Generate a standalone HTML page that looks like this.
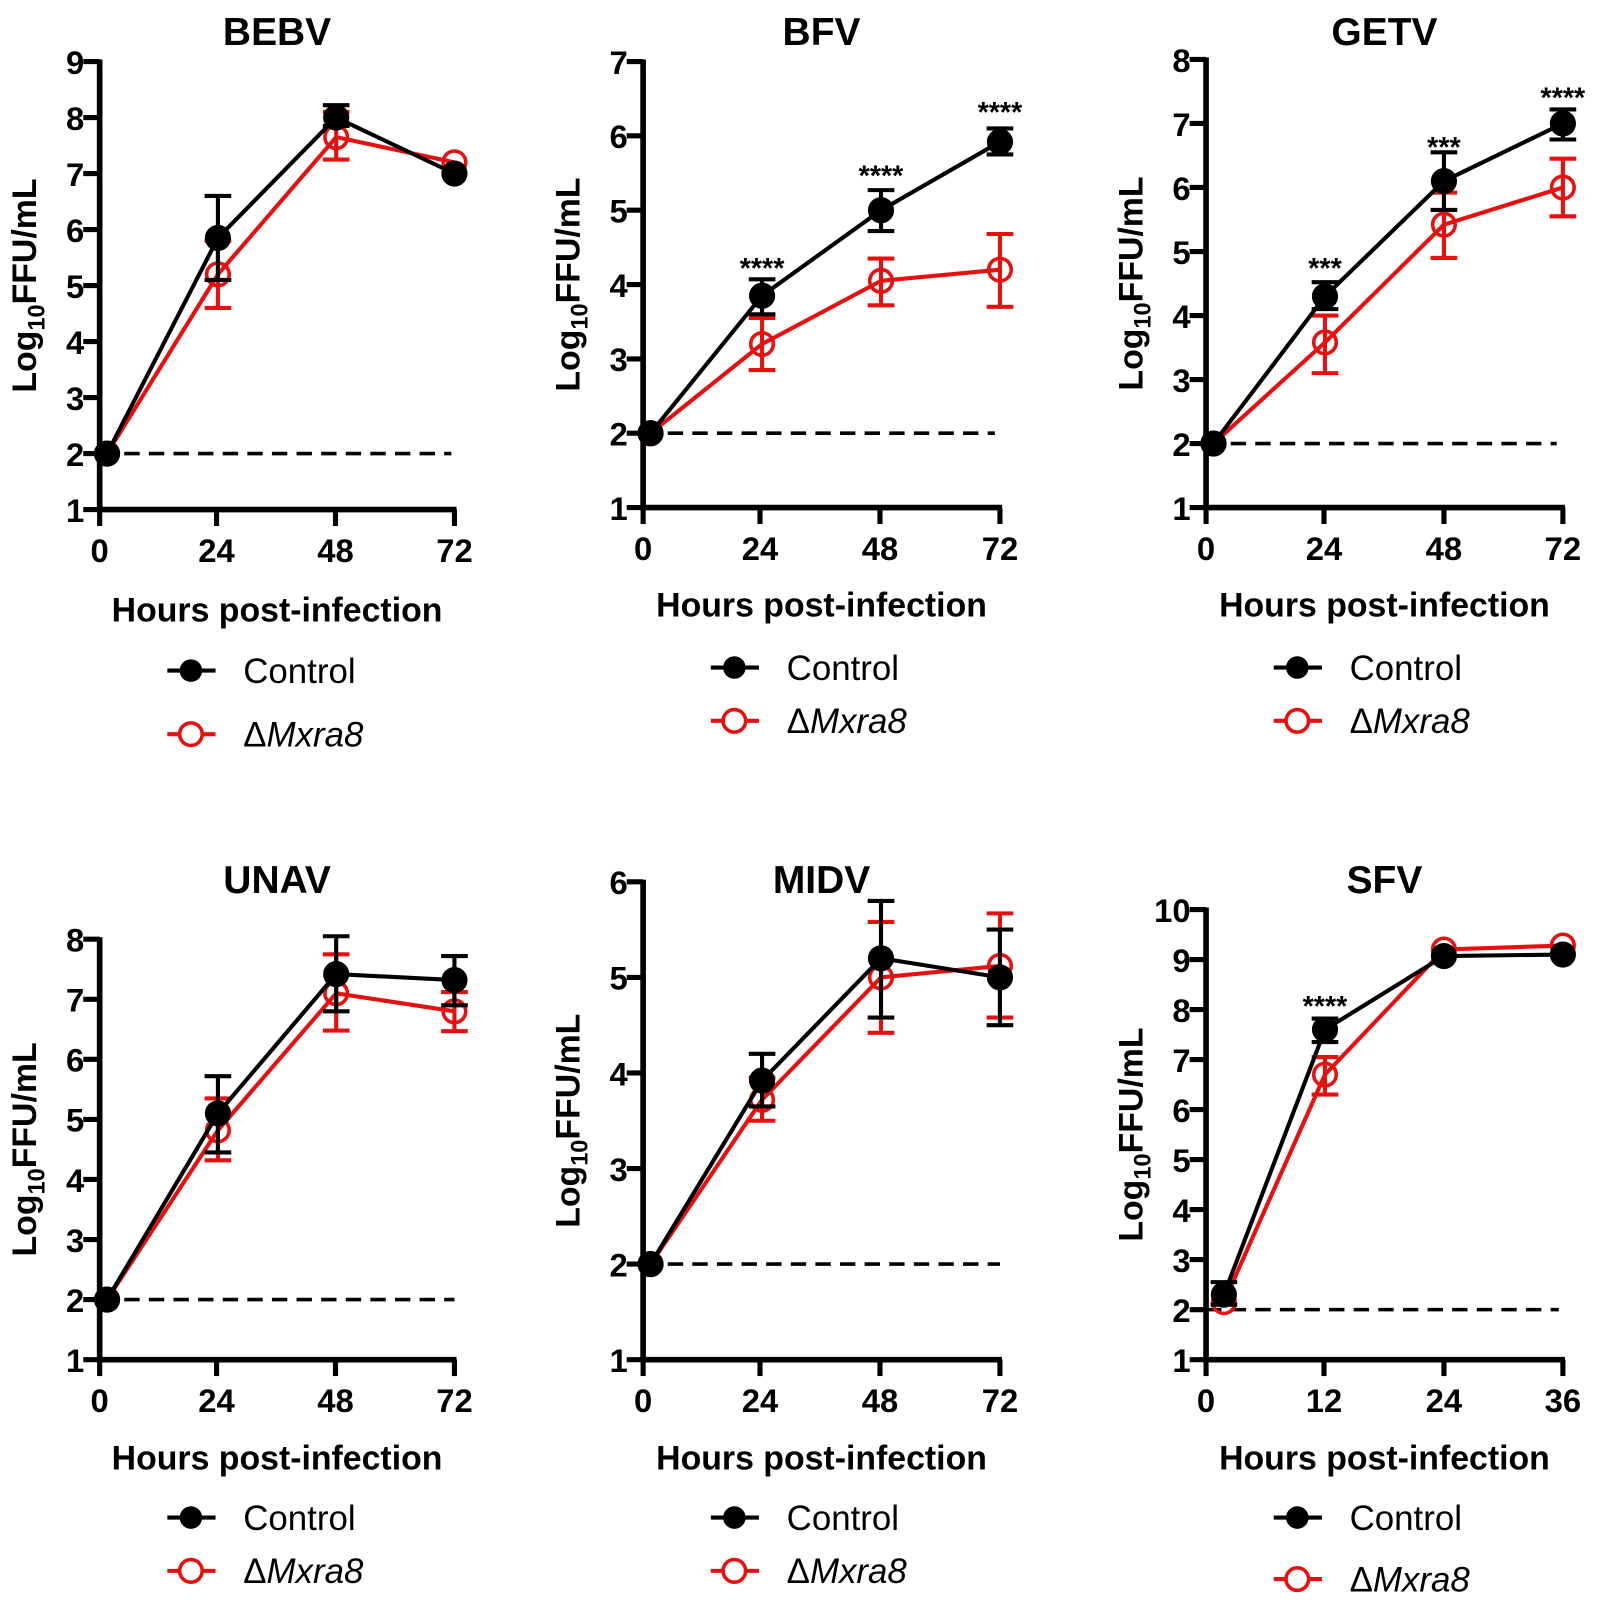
<!DOCTYPE html>
<html><head><meta charset="utf-8"><style>
html,body{margin:0;padding:0;background:#fff}
svg{display:block}
text{font-family:"Liberation Sans",Arial,sans-serif}
</style></head><body>
<svg id="s" width="1600" height="1616" viewBox="0 0 1560 1576" xmlns="http://www.w3.org/2000/svg"></svg>
<script>
const P=[
{t:"BEBV",ax:97,ay:497,ytop:60,ymin:1,ymax:9,xs:[97,211,327,443],xl:["0","24","48","72"],tmax:72,
 c:[[1.5,2],[24,5.85,5.1,6.6],[48,8.0,7.85,8.22],[72,7.0]],
 r:[[1.5,2],[24,5.2,4.6,5.8],[48,7.65,7.25,8.1],[72,7.2]],stars:[],ty:30,lx:595,lg:[654,716],dashEnd:440},
{t:"BFV",ax:627,ay:495,ytop:60,ymin:1,ymax:7,xs:[627,741,858,975],xl:["0","24","48","72"],tmax:72,
 c:[[1.5,2],[24,3.85,3.6,4.07],[48,5.0,4.72,5.27],[72,5.92,5.75,6.1]],
 r:[[1.5,2],[24,3.2,2.85,3.55],[48,4.05,3.72,4.35],[72,4.2,3.7,4.68]],stars:[[24,"****",258],[48,"****",168],[72,"****",106]],ty:30,lx:590,lg:[651,703],dashEnd:970},
{t:"GETV",ax:1176,ay:495,ytop:58,ymin:1,ymax:8,xs:[1176,1291,1408,1524],xl:["0","24","48","72"],tmax:72,
 c:[[1.5,2],[24,4.3,4.1,4.52],[48,6.1,5.65,6.55],[72,7.0,6.75,7.22]],
 r:[[1.5,2],[24,3.58,3.1,4.0],[48,5.42,4.9,5.92],[72,6.0,5.55,6.45]],stars:[[24,"***",258],[48,"***",140],[72,"****",92]],ty:30,lx:590,lg:[651,703],dashEnd:1518},
{t:"UNAV",ax:97,ay:1326,ytop:916,ymin:1,ymax:8,xs:[97,211,327,443],xl:["0","24","48","72"],tmax:72,
 c:[[1.5,2],[24,5.1,4.45,5.72],[48,7.42,6.8,8.05],[72,7.32,6.9,7.72]],
 r:[[1.5,2],[24,4.82,4.32,5.35],[48,7.1,6.48,7.75],[72,6.8,6.47,7.12]],stars:[],ty:857,lx:1422,lg:[1480,1532],dashEnd:443},
{t:"MIDV",ax:627,ay:1326,ytop:860,ymin:1,ymax:6,xs:[627,741,858,975],xl:["0","24","48","72"],tmax:72,
 c:[[1.5,2],[24,3.92,3.65,4.2],[48,5.2,4.58,5.8],[72,5.0,4.5,5.5]],
 r:[[1.5,2],[24,3.72,3.5,3.95],[48,5.0,4.42,5.58],[72,5.12,4.58,5.67]],stars:[],ty:857,lx:1422,lg:[1480,1532],dashEnd:975},
{t:"SFV",ax:1176,ay:1326,ytop:887,ymin:1,ymax:10,xs:[1176,1291,1408,1524],xl:["0","12","24","36"],tmax:36,
 c:[[1.8,2.3,2.1,2.55],[12,7.6,7.35,7.82],[24,9.07],[36,9.1]],
 r:[[1.8,2.15],[12,6.7,6.3,7.05],[24,9.2],[36,9.28]],stars:[[12,"****",978]],ty:857,lx:1422,lg:[1480,1540],dashEnd:1520}
];
let h="";
for(const p of P){
 const ys=(p.ay-p.ytop)/(p.ymax-p.ymin);
 const Y=v=>p.ay-(v-p.ymin)*ys;
 const X=t=>p.xs[0]+t/p.tmax*(p.xs[3]-p.xs[0]);
 const cx=(p.xs[0]+p.xs[3])/2;
 h+=`<text x="${cx}" y="${p.ty+14}" font-size="38" font-weight="bold" text-anchor="middle">${p.t}</text>`;
 h+=`<path d="M${p.ax} ${p.ytop-2}V${p.ay}H${p.xs[3]+2}" fill="none" stroke="#000" stroke-width="5.5"/>`;
 for(let v=p.ymin;v<=p.ymax;v++){const y=Y(v);
  h+=`<line x1="${p.ax-16}" x2="${p.ax}" y1="${y}" y2="${y}" stroke="#000" stroke-width="5"/>`;
  h+=`<text x="${p.ax-15}" y="${y+12}" font-size="32" font-weight="bold" text-anchor="end">${v}</text>`;}
 p.xs.forEach((x,i)=>{h+=`<line x1="${x}" x2="${x}" y1="${p.ay}" y2="${p.ay+16}" stroke="#000" stroke-width="5"/>`;
  h+=`<text x="${x}" y="${p.ay+51}" font-size="32" font-weight="bold" text-anchor="middle">${p.xl[i]}</text>`;});
 h+=`<text x="${cx}" y="${p.lx+11}" font-size="33" font-weight="bold" text-anchor="middle">Hours post-infection</text>`;
 const my=(p.ay+p.ytop)/2;
 h+=`<text transform="translate(${p.ax-62},${my}) rotate(-90)" font-size="33" font-weight="bold" text-anchor="middle">Log<tspan font-size="23" dy="8">10</tspan><tspan dy="-8">FFU/mL</tspan></text>`;
 h+=`<line x1="${p.ax}" x2="${p.dashEnd}" y1="${Y(2)}" y2="${Y(2)}" stroke="#000" stroke-width="3.5" stroke-dasharray="15,9"/>`;
 const draw=(d,col,fill)=>{
  h+=`<polyline points="${d.map(q=>X(q[0])+","+Y(q[1])).join(" ")}" fill="none" stroke="${col}" stroke-width="4"/>`;
  for(const q of d){if(q.length>2){const x=X(q[0]);
   h+=`<path d="M${x} ${Y(q[2])}V${Y(q[3])}M${x-13} ${Y(q[2])}h26M${x-13} ${Y(q[3])}h26" stroke="${col}" stroke-width="4" fill="none"/>`;}}
  for(const q of d){h+=`<circle cx="${X(q[0])}" cy="${Y(q[1])}" r="11" fill="${fill?col:'#fff'}" fill-opacity="${fill?1:0}" stroke="${col}" stroke-width="3.5"/>`;}
 };
 draw(p.r,"#e8100f",false);
 draw(p.c,"#000",true);
 for(const s of p.stars){h+=`<text x="${X(s[0])}" y="${s[2]+13}" font-size="28" font-weight="bold" text-anchor="middle">${s[1]}</text>`;}
 const lx0=p.xs[0]+66;
 h+=`<line x1="${lx0}" x2="${lx0+47}" y1="${p.lg[0]}" y2="${p.lg[0]}" stroke="#000" stroke-width="4"/><circle cx="${lx0+23}" cy="${p.lg[0]}" r="11" fill="#000"/>`;
 h+=`<text x="${lx0+74}" y="${p.lg[0]+12}" font-size="34">Control</text>`;
 h+=`<line x1="${lx0}" x2="${lx0+47}" y1="${p.lg[1]}" y2="${p.lg[1]}" stroke="#e8100f" stroke-width="4"/><circle cx="${lx0+23}" cy="${p.lg[1]}" r="11" fill="#fff" stroke="#e8100f" stroke-width="3.5"/>`;
 h+=`<text x="${lx0+74}" y="${p.lg[1]+12}" font-size="34">Δ<tspan font-style="italic">Mxra8</tspan></text>`;
}
document.getElementById("s").innerHTML=h;
</script>
</body></html>
